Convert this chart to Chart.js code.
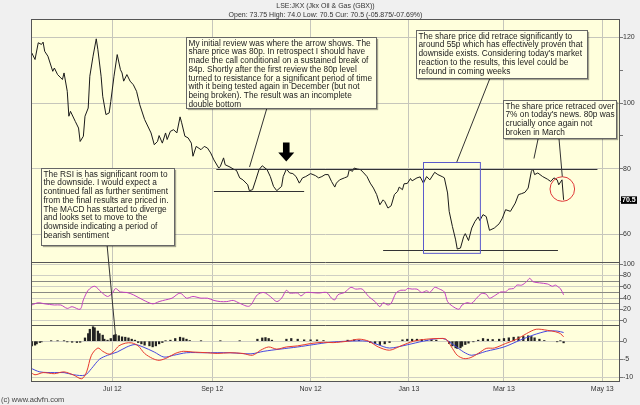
<!DOCTYPE html>
<html>
<head>
<meta charset="utf-8">
<script src="https://cdn.jsdelivr.net/npm/chart.js@4.4.1/dist/chart.umd.min.js"></script>
<style>
html,body{margin:0;padding:0;background:#f0f0f0;}
#wrap{width:640px;height:405px;}
</style>
</head>
<body>
<div id="wrap"><canvas id="chart" width="640" height="405"></canvas></div>
<script>
// x values are calendar days counted from 1 Jul 2012
const tickDays = [0, 62, 123, 184, 243, 304]
const tickLabels = ["Jul 12", "Sep 12", "Nov 12", "Jan 13", "Mar 13", "May 13"]
const priceTicks = [60, 70, 80, 90, 100, 110, 120]
const rsiTicks = [0, 20, 30, 40, 50, 60, 70, 80, 100]
const macdTicks = [-10, -5, 0]

const priceDays = [-50,-48,-46,-44,-43,-42,-40,-37,-36,-34,-32,-31,-30,-28,-27,-26,-23,-21,-20,-18,-17,-15,-14,-12,-10,-9,-7,-6,-4,-2,-1,1,3,5,6,7,9,11,13,15,17,20,24,26,28,29,31,33,34,36,38,40,42,43,45,47,49,50,52,55,57,59,61,63,66,67,69,70,73,75,77,79,81,84,85,87,89,91,93,96,98,100,102,105,106,108,110,112,114,116,118,120,123,126,128,130,132,134,136,138,139,141,144,146,147,149,150,152,154,156,158,160,162,164,166,168,169,171,173,175,177,178,180,181,183,185,186,189,191,193,195,197,200,202,205,206,208,209,211,213,214,216,218,219,221,223,225,227,228,230,232,234,237,240,242,244,247,250,252,254,256,258,260,261,262,264,267,270,272,274,276,277,279,280]
const priceValues = [115.3,113.3,118.4,117.9,118.6,115.8,114.3,109.7,110.7,108.7,107.7,107.2,109.2,103.6,96.0,97.5,94.4,92.4,88.3,89.9,96.0,98.5,108.2,114.3,119.6,116.3,108.2,102.1,96.5,97.0,100.5,108.2,114.8,110.2,109.2,106.7,108.7,106.7,105.6,103.6,99.5,95.0,90.9,87.3,88.3,90.1,87.8,90.9,88.9,91.4,91.9,90.9,95.8,94.0,89.9,89.4,87.8,83.8,86.8,85.8,86.8,86.3,84.8,82.7,80.2,80.7,83.3,81.2,80.5,79.9,79.5,77.2,76.6,75.1,73.3,73.6,76.6,79.7,80.9,79.7,77.6,74.6,73.3,74.6,77.6,79.9,78.7,78.5,77.6,75.6,77.2,77.6,78.5,77.9,77.2,77.6,78.2,78.2,76.1,74.4,75.6,76.6,77.2,77.6,79.7,79.2,80.2,79.9,79.7,78.7,77.6,75.6,74.1,72.1,69.0,70.5,70.0,68.0,68.7,72.1,73.1,74.4,73.6,75.4,75.5,77.0,76.3,77.2,77.5,75.6,77.6,76.6,78.9,78.2,77.5,77.2,72.6,67.0,62.4,58.3,55.5,55.8,59.3,60.2,58.1,61.9,63.9,65.3,64.2,66.0,65.4,61.2,61.9,63.2,64.9,67.5,67.0,69.5,72.1,72.4,72.8,74.1,79.2,79.9,78.2,78.7,77.6,76.8,76.1,77.2,76.6,75.1,76.6,70.5]

const rsiDays = [-50,-46,-42,-36,-32,-28,-25,-20,-18,-15,-11,-7,-3,0,2,5,9,13,19,25,29,33,37,42,46,50,55,59,63,67,71,75,79,85,90,94,98,102,105,108,110,115,117,120,123,128,133,136,138,140,144,148,151,155,159,163,166,168,171,173,176,179,182,183,186,189,192,195,197,200,203,206,208,211,215,217,220,223,226,229,232,234,237,241,244,246,249,251,254,257,259,261,265,270,273,275,277,278,280]
const rsiValues = [28,32,30,28,28,22,25,20.5,37,54,61,51,43,49,57,51,50,46,37,30,34,37,40,49,40,43,40,40,36,34,34,36,31,26,46,50,43,34,40,54,49,49,44,50,50,49,50,40,37,46,50,59,56,56,43,34,25,32,28,31,49,54,54,57,56,56,50,53,50,59,56,51,34,26,20.5,28,32,31,40,48,47,40,44,51,51,56,57,63,63,69,75,69,67,65,61,63,59,57,46]

const macdDays = [-51,-48,-43,-36,-30,-24,-19,-16,-13,-9,-6,-2,1,4,8,12,16,20,25,29,34,39,44,50,59,65,73,81,87,92,97,102,108,115,123,131,137,146,153,159,165,172,179,187,195,203,207,211,214,218,222,227,232,237,244,251,257,263,270,275,278,280]
const macdValues = [-8.5,-9.3,-8.7,-9.0,-8.5,-9.4,-10.4,-8.5,-3.9,-1.9,-2.8,-3.6,-2.8,-1.3,-0.56,-0.47,-1.3,-3.4,-4.8,-5.3,-4.6,-3.4,-2.8,-3.0,-3.2,-3.4,-3.2,-3.4,-3.9,-2.5,-1.6,-2.2,-1.6,-1.3,-0.65,-0.3,-0.4,0,0.56,0,-1.6,-2.5,-1.3,0,0.56,0.74,0.56,-2.0,-3.9,-4.8,-4.6,-3.4,-2.0,-1.9,-0.65,0.56,2.1,3.3,3.0,2.6,2.1,1.2]

const signalDays = [-51,-45,-36,-30,-24,-17,-13,-8,-3,3,9,14,19,26,32,38,46,57,73,86,94,104,115,125,135,146,158,165,172,183,193,205,212,218,223,232,243,253,261,270,276,280]
const signalValues = [-7.4,-8.5,-8.7,-8.7,-9.3,-9.4,-7.6,-5.0,-3.9,-3.0,-1.6,-0.93,-1.6,-3.0,-4.4,-3.9,-3.2,-3.2,-3.2,-3.5,-2.8,-2.2,-1.6,-0.93,-0.3,0,0,-1.0,-1.9,-1.0,0,0.74,-1.1,-3.0,-3.9,-2.8,-1.6,0.28,1.67,2.8,2.8,2.4]

const histDays = [-50,-48,-47,-45,-44,-38,-34,-30,-28,-25,-22,-20,-17,-15,-14,-12,-11,-9,-8,-6,-5,-3,-1,1,2,4,6,8,10,12,14,16,18,20,23,25,27,29,31,33,36,39,42,44,46,48,55,67,79,90,93,95,97,99,108,111,115,119,123,127,131,146,150,153,160,163,166,169,172,180,183,186,189,192,195,198,201,209,211,213,214,216,217,219,221,224,227,230,233,236,240,243,246,249,252,255,258,260,262,265,268,276,278,280]
const histValues = [-1.3,-1.1,-0.75,-0.37,-0.2,0.1,0.1,0.1,-0.2,-0.3,-0.37,-0.3,0.9,2.1,3.3,4.0,3.7,2.8,2.1,1.67,0.55,0.28,0.74,1.67,1.85,1.5,1.2,1.1,0.9,0.55,0.28,-0.37,-0.74,-1.1,-1.3,-1.57,-1.3,-0.74,-0.37,0.1,0.28,0.74,1.1,0.9,0.55,0.18,0.1,0.1,0.1,0.55,0.9,1.0,0.74,0.28,0.55,0.74,0.55,0.37,0.37,0.37,0.18,0.28,0.37,0.28,-0.37,-0.65,-0.93,-0.74,-0.37,0.37,0.55,0.55,0.55,0.46,0.28,0.37,0.28,-0.65,-1.3,-1.85,-2.0,-1.85,-1.4,-0.93,-0.55,-0.18,0.28,0.74,0.55,0.46,0.55,0.74,0.93,1.1,1.2,1.3,1.5,1.3,0.93,0.55,0.18,-0.18,0.1,-0.46]

const lastPrice = 70.5
const titleText = "LSE:JKX (Jkx Oil & Gas (GBX))"
const quoteText = "Open: 73.75 High: 74.0 Low: 70.5 Cur: 70.5 (-05.875/-07.69%)"
const copyText = "(c) www.advfn.com"

// drawn annotations, placed in chart units (days / price)
const levelLines = [
  {from: 64.5, to: 301, price: 80},
  {from: 63, to: 119, price: 73.3},
  {from: 168, to: 276.5, price: 55.3}
]
const noteBoxes = [
  {x1: 45.9, x2: 163.7, top: 120.1, bottom: 98.5, lines: [
    "My initial review was where the arrow shows. The",
    "share price was 80p. In retrospect I should have",
    "made the call conditional on a sustained break of",
    "84p. Shortly after the first review the 80p level",
    "turned to resistance for a significant period of time",
    "with it being tested again in December (but not",
    "being broken). The result was an incomplete",
    "double bottom"],
    pointers: [[95.9, 98.5, 85.1, 80.5, "yPrice"]]},
  {x1: 188.3, x2: 294.3, top: 122.2, bottom: 107.7, lines: [
    "The share price did retrace significantly to",
    "around 55p which has effectively proven that",
    "downside exists. Considering today's market",
    "reaction to the results, this level could be",
    "refound in coming weeks"],
    pointers: [[234.4, 107.7, 213.7, 82.0, "yPrice"]]},
  {x1: 242.2, x2: 312.5, top: 101.1, bottom: 89.4, lines: [
    "The share price retraced over",
    "7% on today's news. 80p was",
    "crucially once again not",
    "broken in March"],
    pointers: [[264.3, 89.4, 261.6, 83.1, "yPrice"], [277.1, 89.4, 279.2, 77.6, "yPrice"]]},
  {x1: -44.2, x2: 38.4, top: 80.2, bottom: 56.8, lines: [
    "The RSI is has significant room to",
    "the downside. I would expect a",
    "continued fall as further sentiment",
    "from the final results are priced in.",
    "The MACD has started to diverge",
    "and looks set to move to the",
    "downside indicating a period of",
    "bearish sentiment"],
    pointers: [[-3.3, 56.8, 1.9, 1.75, "yMacd"]]}
]
const dropBox = {x1: 193, x2: 228.3, top: 82.0, bottom: 54.3}
const markCircle = {day: 279.2, price: 73.8, r: 12.3}
const arrowMark = {day: 107.9, tip: 82.2, tail: 88.0}

const FONT = '"Liberation Sans", Arial, Helvetica, sans-serif'

function pts(xs, ys){
  return xs.map((d, i) => ({x: d, y: ys[i]}))
}

function fixedTicks(list){
  return sc => { sc.ticks = list.map(v => ({value: v})) }
}

const panelPlugin = {
  id: "panels",
  beforeDraw(chart){
    const c = chart.ctx, a = chart.chartArea
    c.save()
    c.fillStyle = "#f0f0f0"
    c.fillRect(0, 0, chart.width, chart.height)
    c.fillStyle = "#ffffdc"
    c.fillRect(a.left, a.top, a.right - a.left, a.bottom - a.top)
    c.restore()
  },
  afterDraw(chart){
    const c = chart.ctx, a = chart.chartArea, s = chart.scales
    const X = v => s.x.getPixelForValue(v)
    const P = v => s.yPrice.getPixelForValue(v)
    c.save()

    // frame and panel separators
    c.strokeStyle = "#555"
    c.lineWidth = 1
    c.strokeRect(a.left + 0.5, a.top + 0.5, a.right - a.left - 1, a.bottom - a.top - 1)
    const seps = [s.yRsi.top, s.yMacd.top]
    seps.forEach(y => {
      c.beginPath()
      c.moveTo(a.left, Math.round(y) + 0.5)
      c.lineTo(a.right, Math.round(y) + 0.5)
      c.stroke()
    })

    // support / resistance lines
    c.strokeStyle = "#333"
    levelLines.forEach(l => {
      const y = Math.round(P(l.price)) + 0.5
      c.beginPath()
      c.moveTo(X(l.from), y)
      c.lineTo(X(l.to), y)
      c.stroke()
    })

    // blue box round the drop
    c.strokeStyle = "#5a5acc"
    c.strokeRect(Math.round(X(dropBox.x1)) + 0.5, Math.round(P(dropBox.top)) + 0.5,
      X(dropBox.x2) - X(dropBox.x1), P(dropBox.bottom) - P(dropBox.top))

    // red circle on the latest fall
    c.strokeStyle = "#e03a3a"
    c.beginPath()
    c.arc(X(markCircle.day), P(markCircle.price), markCircle.r, 0, Math.PI * 2)
    c.stroke()

    // black arrow
    const ax = X(arrowMark.day), ty = P(arrowMark.tip), ay = P(arrowMark.tail)
    c.fillStyle = "#000"
    c.beginPath()
    c.moveTo(ax - 3.3, ay)
    c.lineTo(ax + 3.3, ay)
    c.lineTo(ax + 3.3, ty - 9)
    c.lineTo(ax + 8, ty - 9)
    c.lineTo(ax, ty)
    c.lineTo(ax - 8, ty - 9)
    c.lineTo(ax - 3.3, ty - 9)
    c.closePath()
    c.fill()

    // note boxes with their pointers
    c.strokeStyle = "#333"
    noteBoxes.forEach(b => {
      b.pointers.forEach(p => {
        c.beginPath()
        c.moveTo(X(p[0]), P(p[1]))
        c.lineTo(X(p[2]), s[p[4]].getPixelForValue(p[3]))
        c.stroke()
      })
    })
    noteBoxes.forEach(b => {
      const x1 = Math.round(X(b.x1)) + 0.5, x2 = Math.round(X(b.x2)) + 0.5
      const y1 = Math.round(P(b.top)) + 0.5, y2 = Math.round(P(b.bottom)) + 0.5
      c.save()
      c.shadowColor = "rgba(0,0,0,0.35)"
      c.shadowOffsetX = 1.5
      c.shadowOffsetY = 1.5
      c.shadowBlur = 1
      c.fillStyle = "#ffffe4"
      c.fillRect(x1, y1, x2 - x1, y2 - y1)
      c.restore()
      c.strokeStyle = "#666"
      c.strokeRect(x1, y1, x2 - x1, y2 - y1)
      c.fillStyle = "#222"
      c.font = "8.3px " + FONT
      c.textBaseline = "top"
      c.textAlign = "left"
      b.lines.forEach((t, i) => c.fillText(t, x1 + 2, y1 + 1.8 + i * 8.7))
    })

    // last price flag
    const ly = P(lastPrice)
    c.fillStyle = "#000"
    c.fillRect(a.right + 1, ly - 3.5, 16, 7.5)
    c.fillStyle = "#fff"
    c.font = "bold 7px " + FONT
    c.textBaseline = "middle"
    c.fillText(lastPrice.toFixed(1), a.right + 2, ly + 0.3)

    // title lines and footer
    c.fillStyle = "#333"
    c.font = "7px " + FONT
    c.textAlign = "center"
    const cx = (a.left + a.right) / 2
    c.fillText(titleText, cx, 6)
    c.fillText(quoteText, cx, 15)
    c.textAlign = "left"
    c.font = "7.5px " + FONT
    c.fillStyle = "#444"
    c.fillText(copyText, 1, 400)
    c.restore()
  }
}

const tickFont = {size: 7, family: FONT}
const clear = "rgba(0,0,0,0)"

new Chart(document.getElementById("chart").getContext("2d"), {
  data: {
    datasets: [
      {type: "line", label: "Price", data: pts(priceDays, priceValues), yAxisID: "yPrice",
        borderColor: "#1a1a1a", borderWidth: 1, pointRadius: 0, tension: 0, order: 0},
      {type: "line", label: "RSI", data: pts(rsiDays, rsiValues), yAxisID: "yRsi",
        borderColor: "#c23fc2", borderWidth: 1, pointRadius: 0, tension: 0.3, order: 0},
      {type: "line", label: "MACD", data: pts(macdDays, macdValues), yAxisID: "yMacd",
        borderColor: "#e8392e", borderWidth: 1, pointRadius: 0, tension: 0.3, order: 0},
      {type: "line", label: "Signal", data: pts(signalDays, signalValues), yAxisID: "yMacd",
        borderColor: "#4747e0", borderWidth: 1, pointRadius: 0, tension: 0.3, order: 1},
      {type: "bar", label: "Histogram", data: pts(histDays, histValues), yAxisID: "yMacd",
        backgroundColor: "#222", barThickness: 1.6, order: 2}
    ]
  },
  options: {
    responsive: false,
    animation: false,
    events: [],
    layout: {padding: {left: 31, top: 19, right: 0, bottom: 0}},
    plugins: {legend: {display: false}, tooltip: {enabled: false}},
    scales: {
      x: {
        type: "linear", min: -50.5, max: 315, offset: false,
        afterBuildTicks: fixedTicks(tickDays),
        afterFit: sc => { sc.height = 23 },
        ticks: {callback: (v, i) => tickLabels[i], font: tickFont, color: "#333", padding: 3, maxRotation: 0, autoSkip: false},
        grid: {color: "#c6c6bb", drawTicks: false, offset: false},
        border: {display: false}
      },
      yPrice: {
        position: "right", stack: "panels", stackWeight: 242.5, min: 51.6, max: 125.65,
        afterBuildTicks: fixedTicks(priceTicks),
        afterFit: sc => { sc.width = 20 },
        ticks: {autoSkip: false, callback: v => (v % 20 === 0 ? v : ""), font: tickFont, color: "#333", padding: 0},
        grid: {color: ctx => (ctx.tick && ctx.tick.value % 20 === 0 ? "#c6c6bb" : clear), tickColor: "#777", tickLength: 3},
        border: {display: false}
      },
      yRsi: {
        position: "right", stack: "panels", stackWeight: 63, min: -7.1, max: 104,
        afterBuildTicks: fixedTicks(rsiTicks),
        afterFit: sc => { sc.width = 20 },
        ticks: {autoSkip: false, callback: v => (v % 20 === 0 ? v : ""), font: tickFont, color: "#333", padding: 0},
        grid: {
          color: ctx => {
            const v = ctx.tick ? ctx.tick.value : -1
            if (v === 70 || v === 50 || v === 30) return "#8a8a84"
            return "#cfcfc4"
          },
          tickColor: ctx => (ctx.tick && ctx.tick.value % 20 === 0 ? "#777" : clear),
          tickLength: 3
        },
        border: {display: false}
      },
      yMacd: {
        position: "right", stack: "panels", stackWeight: 57, min: -11.3, max: 4.5,
        afterBuildTicks: fixedTicks(macdTicks),
        afterFit: sc => { sc.width = 20 },
        ticks: {autoSkip: false, font: tickFont, color: "#333", padding: 0},
        grid: {color: "#cfcfc4", tickColor: "#777", tickLength: 3},
        border: {display: false}
      }
    }
  },
  plugins: [panelPlugin]
})
</script>
</body>
</html>
